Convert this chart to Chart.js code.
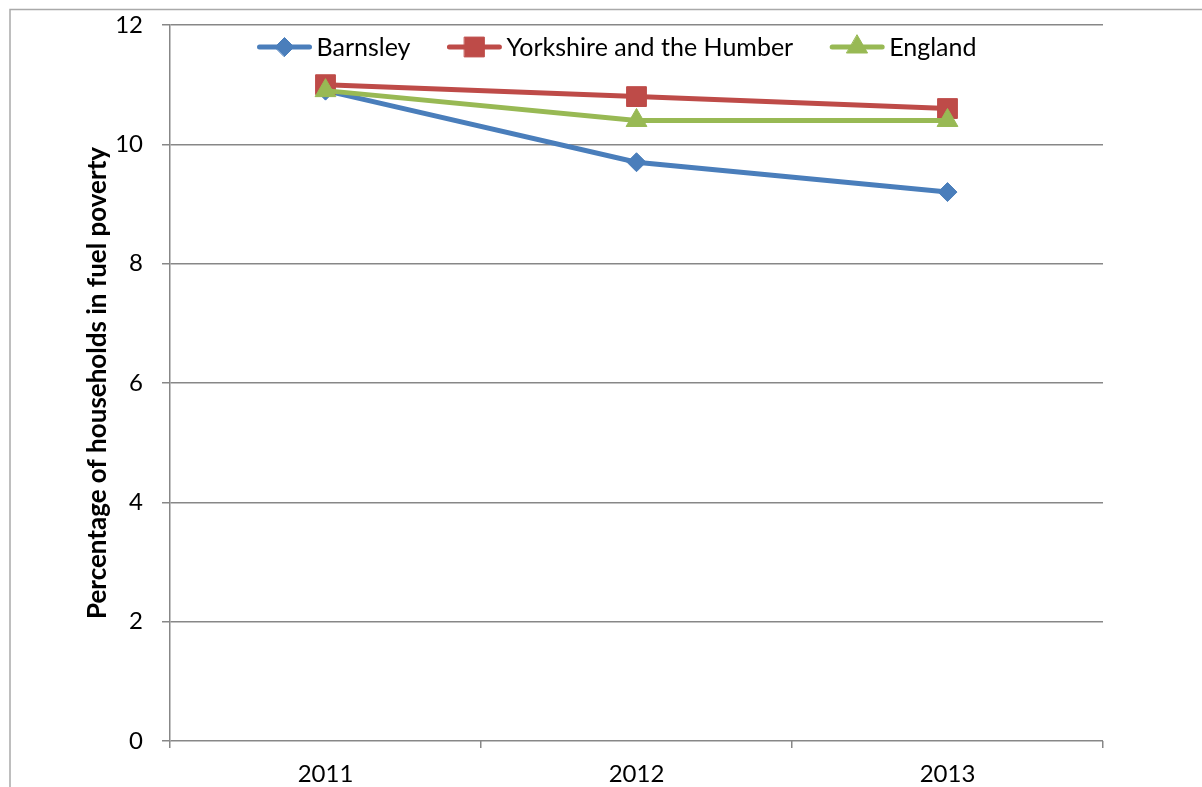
<!DOCTYPE html>
<html>
<head>
<meta charset="utf-8">
<script src="https://cdn.jsdelivr.net/npm/chart.js@4/dist/chart.umd.min.js"></script>
<style>
html, body { margin: 0; padding: 0; background: #fff; }
#wrap { width: 1202px; height: 787px; position: relative; }
</style>
</head>
<body>
<div id="wrap"><canvas id="fuel-chart"></canvas></div>
<script>
// data
const years = ['2011', '2012', '2013'];
const barnsley = [10.9, 9.7, 9.2];
const yorkshire = [11.0, 10.8, 10.6];
const england = [10.9, 10.4, 10.4];
const yMin = 0, yMax = 12, yStep = 2;

const FONT = 'Lato, "Liberation Sans", sans-serif';

// light grey frame round the chart (top and left edges only are visible)
const frame = {
    id: 'frame',
    beforeDraw(chart) {
        const ctx = chart.ctx;
        ctx.save();
        ctx.strokeStyle = '#a9a9a9';
        ctx.lineWidth = 1.5;
        ctx.beginPath();
        ctx.moveTo(10, chart.height);
        ctx.lineTo(10, 9.5);
        ctx.lineTo(chart.width, 9.5);
        ctx.stroke();
        ctx.restore();
    }
};

// legend drawn inside the plot area, line + marker like Excel
const insideLegend = {
    id: 'insideLegend',
    afterDatasetsDraw(chart) {
        const ctx = chart.ctx, area = chart.chartArea;
        ctx.save();
        ctx.font = '25px ' + FONT;
        const lineLen = 56, gap = 4, spacing = 36;
        const items = chart.data.datasets.map(ds => ({ ds, w: ctx.measureText(ds.label).width }));
        const total = items.reduce((s, it) => s + lineLen + gap + it.w, 0) + spacing * (items.length - 1);
        let x = (area.left + area.right) / 2 - 20 - total / 2;
        const y = area.top + 22;
        items.forEach(it => {
            const c = it.ds.borderColor;
            ctx.strokeStyle = c;
            ctx.lineWidth = 5;
            ctx.lineCap = 'round';
            ctx.beginPath();
            ctx.moveTo(x + 3, y);
            ctx.lineTo(x + lineLen - 3, y);
            ctx.stroke();
            ctx.fillStyle = c;
            ctx.lineWidth = 1;
            Chart.helpers.drawPoint(ctx, {
                pointStyle: it.ds.pointStyle,
                radius: it.ds.pointRadius,
                borderWidth: 1,
                rotation: 0
            }, x + lineLen / 2, y);
            ctx.fillStyle = '#000';
            ctx.textAlign = 'left';
            ctx.textBaseline = 'middle';
            ctx.fillText(it.ds.label, x + lineLen + gap, y + 1);
            x += lineLen + gap + it.w + spacing;
        });
        ctx.restore();
    }
};

const ctx = document.getElementById('fuel-chart').getContext('2d');
const chart = new Chart(ctx, {
    type: 'line',
    data: {
        labels: years,
        datasets: [{
            label: 'Barnsley',
            data: barnsley,
            borderColor: '#4a7ebb',
            backgroundColor: '#4a7ebb',
            borderWidth: 5,
            pointStyle: 'rectRot',
            pointRadius: 9.5,
            pointBorderWidth: 1,
            order: 2
        }, {
            label: 'Yorkshire and the Humber',
            data: yorkshire,
            borderColor: '#be4b48',
            backgroundColor: '#be4b48',
            borderWidth: 5,
            pointStyle: 'rect',
            pointRadius: 14,
            pointBorderWidth: 1,
            order: 1
        }, {
            label: 'England',
            data: england,
            borderColor: '#98b954',
            backgroundColor: '#98b954',
            borderWidth: 5,
            pointStyle: 'triangle',
            pointRadius: 12,
            pointBorderWidth: 1,
            order: 0
        }]
    },
    options: {
        responsive: true,
        maintainAspectRatio: false,
        animation: false,
        layout: { padding: { left: 0, top: 25, right: 99, bottom: 0 } },
        plugins: {
            legend: { display: false },
            tooltip: { enabled: false }
        },
        elements: { line: { tension: 0 } },
        scales: {
            x: {
                offset: true,
                grid: {
                    offset: true,
                    drawOnChartArea: false,
                    drawTicks: true,
                    tickLength: 7,
                    color: '#878787',
                    lineWidth: 1.5
                },
                border: { display: false },
                ticks: {
                    color: '#000',
                    font: { family: FONT, size: 24 },
                    padding: 12,
                    maxRotation: 0
                },
                afterFit(scale) { scale.height = 46; }
            },
            y: {
                min: yMin,
                max: yMax,
                grid: {
                    color: '#878787',
                    lineWidth: 1.5,
                    tickLength: 8
                },
                border: { display: true, color: '#878787', width: 1.5 },
                ticks: {
                    stepSize: yStep,
                    color: '#000',
                    font: { family: FONT, size: 24 },
                    padding: 19
                },
                title: {
                    display: true,
                    text: 'Percentage of households in fuel poverty',
                    color: '#000',
                    font: { family: FONT, size: 26, weight: 'bold' },
                    padding: { top: 82, bottom: 0 }
                },
                afterFit(scale) {
                    scale.width = 170;
                    scale.paddingTop = 0;
                    scale.paddingBottom = 0;
                }
            }
        }
    },
    plugins: [frame, insideLegend]
});
</script>
</body>
</html>
